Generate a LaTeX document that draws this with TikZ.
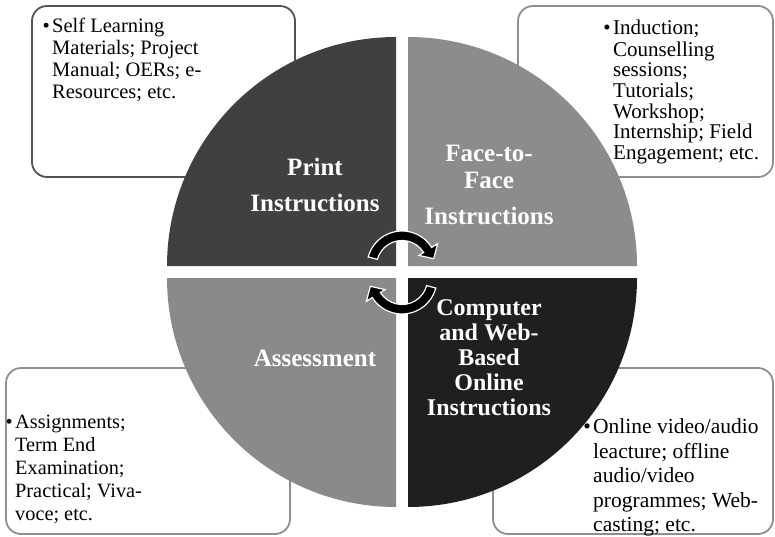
\documentclass[tikz,border=0pt]{standalone}
\usepackage{fontspec}
\setmainfont{Liberation Serif}
\usetikzlibrary{positioning}

\definecolor{printgray}{gray}{0.25}
\definecolor{facegray}{gray}{0.55}
\definecolor{assessgray}{gray}{0.54}
\definecolor{webgray}{gray}{0.12}
\definecolor{boxgray}{gray}{0.56}

\begin{document}
\begin{tikzpicture}[x=1pt, y=1pt,
    infobox/.style={rounded corners=15pt, line width=1.8pt, fill=white},
    infotext/.style 2 args={inner sep=0pt, align=left, anchor=north west,
      font=\fontsize{#1}{#2}\selectfont},
    quadlabel/.style={text=white, align=center, inner sep=0pt,
      font=\fontsize{25}{26.5}\selectfont\bfseries},
    cycarrow/.style={fill=black, draw=white, line width=1.2pt}]
  \useasboundingbox (0,0) rectangle (775,536);

  % boxes behind the circle
  \draw[infobox, draw=printgray!90] (32,359) rectangle (295,530);
  \draw[infobox, draw=boxgray] (518,359) rectangle (773,530);
  \draw[infobox, draw=boxgray] (6,2) rectangle (290,168);
  \draw[infobox, draw=boxgray] (493,2) rectangle (773,168);

  % four quarters
  \fill[printgray] (396,270) -- ++(180:229) arc (180:90:229) -- cycle;
  \fill[facegray] (408,270) -- ++(90:229) arc (90:0:229) -- cycle;
  \fill[assessgray] (396,258) -- ++(270:229) arc (270:180:229) -- cycle;
  \fill[webgray] (408,258) -- ++(0:229) arc (0:-90:229) -- cycle;

  \node[quadlabel] (print) at (315,351) {Print\\[9.5pt]Instructions};
  \node[quadlabel] (face) at (489,351) {Face-to-\\Face\\[9.5pt]Instructions};
  \node[quadlabel] (assess) at (315,178) {Assessment};
  \node[quadlabel, font=\fontsize{24}{25}\selectfont\bfseries] (web) at (489,178)
    {Computer\\and Web-\\Based\\Online\\Instructions};

  % box texts
  \node[infotext={20.5}{22}] (tltext) at (52,519.4)
    {\strut Self Learning\\Materials; Project\\Manual; OERs; e-\\Resources; etc.};
  \node[infotext={20.5}{22}, left=2pt of tltext.north west, anchor=north east] (tlbul) {\textbullet\strut};

  \node[infotext={21}{20.7}] (trtext) at (613,516.5)
    {\strut Induction;\\Counselling\\sessions;\\Tutorials;\\Workshop;\\Internship; Field\\Engagement; etc.};
  \node[infotext={21}{20.7}, left=2pt of trtext.north west, anchor=north east] (trbul) {\textbullet\strut};

  \node[infotext={20.3}{23}] (bltext) at (15,124.1)
    {\strut Assignments;\\Term End\\Examination;\\Practical; Viva-\\voce; etc.};
  \node[infotext={20.3}{23}, left=2pt of bltext.north west, anchor=north east] (blbul) {\textbullet\strut};

  \node[infotext={21.5}{24.6}] (brtext) at (593,119.9)
    {\strut Online video/audio\\leacture; offline\\audio/video\\programmes; Web-\\casting; etc.};
  \node[infotext={21.5}{24.6}, left=2pt of brtext.north west, anchor=north east] (brbul) {\textbullet\strut};

  % cycle arrows in the middle
  \begin{scope}[shift={(402,270)}]
    \filldraw[cycarrow] (165:35) arc (165:32:35) -- (32:42) -- (13:32.5)
      -- (32:20) -- (32:25.5) arc (32:165:25.5) -- cycle;
  \end{scope}
  \begin{scope}[shift={(402,257)}, rotate=180]
    \filldraw[cycarrow] (165:35) arc (165:32:35) -- (32:42) -- (13:32.5)
      -- (32:20) -- (32:25.5) arc (32:165:25.5) -- cycle;
  \end{scope}
\end{tikzpicture}
\end{document}
